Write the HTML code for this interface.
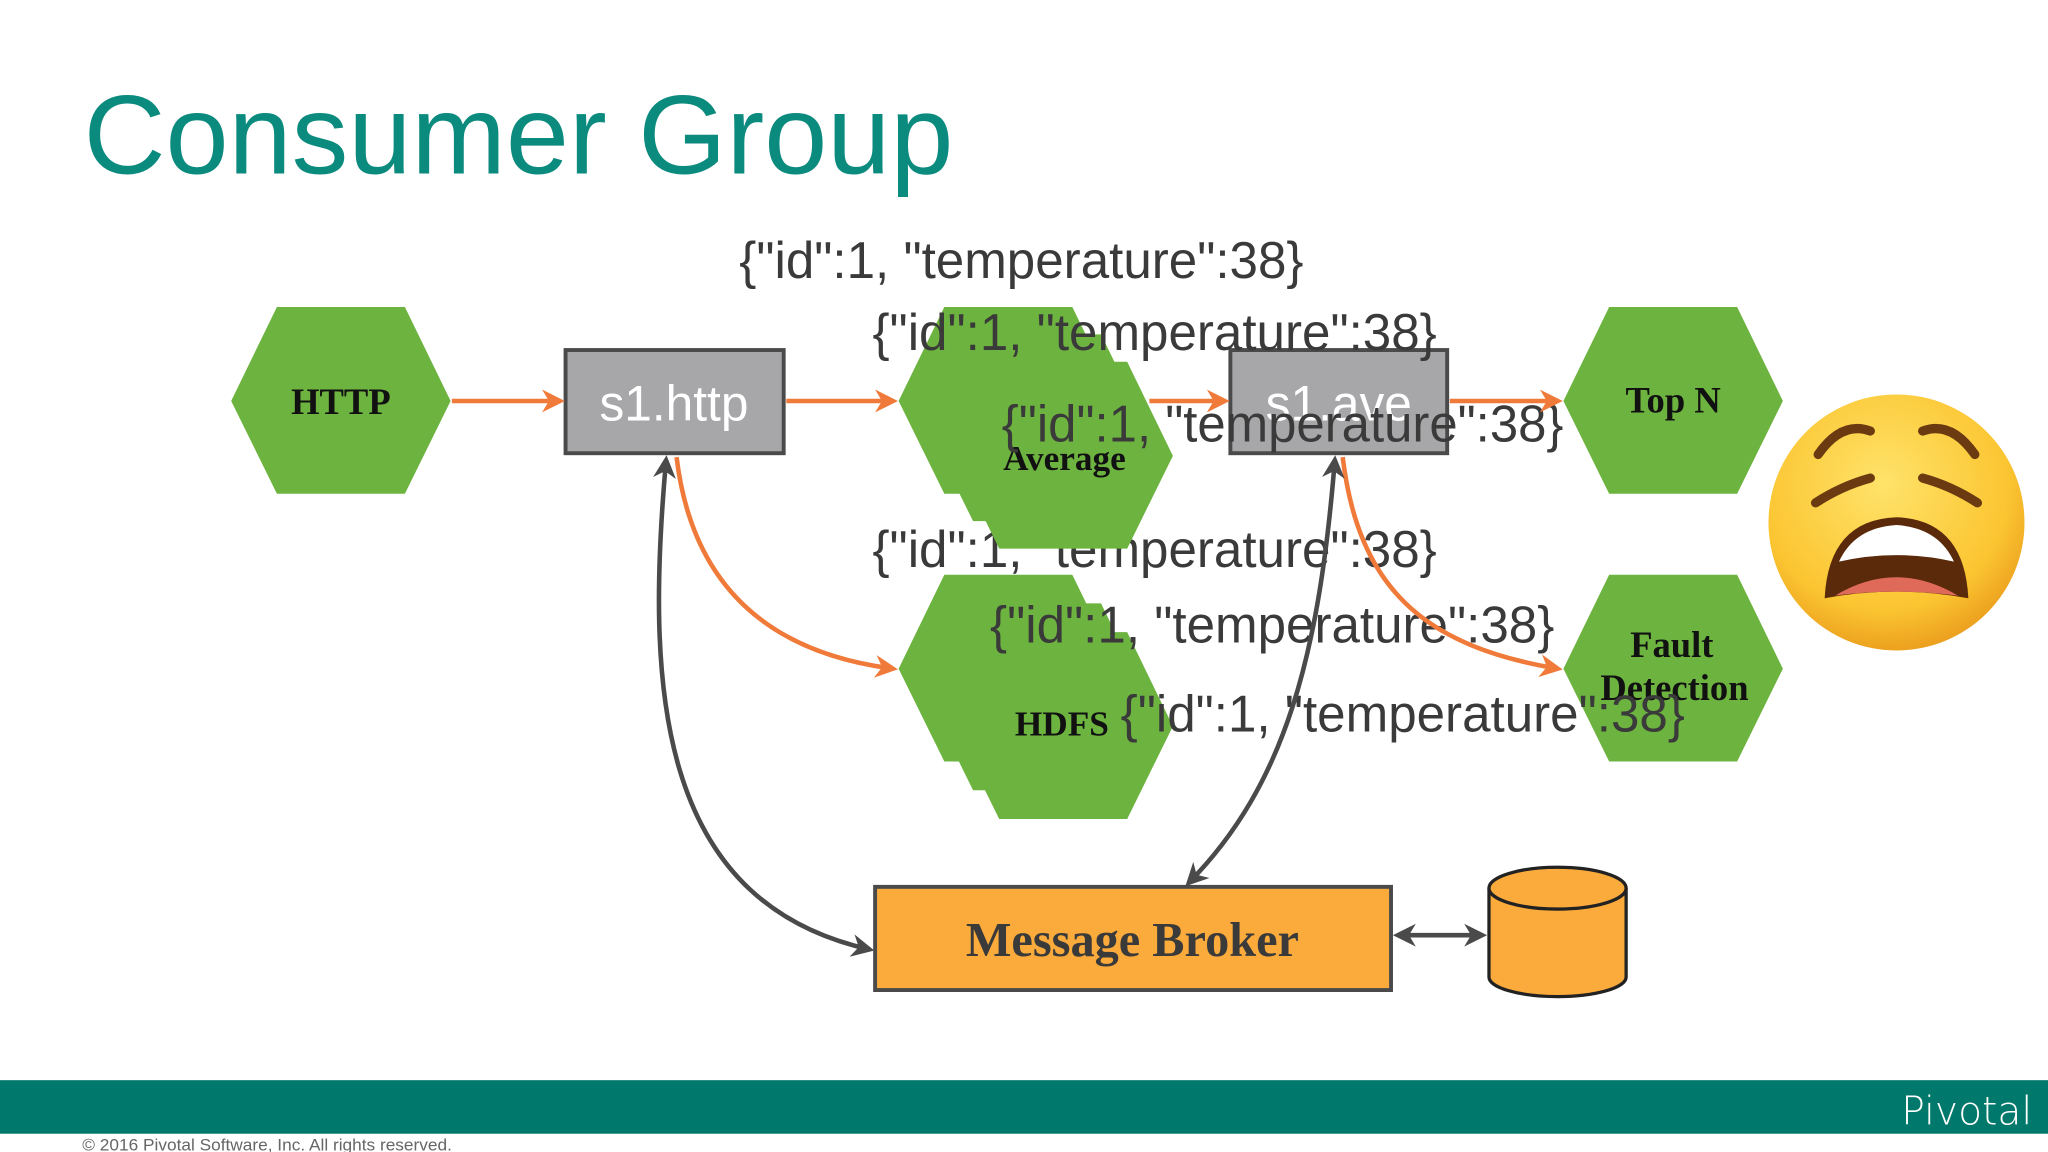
<!DOCTYPE html>
<html><head><meta charset="utf-8"><style>
html,body{margin:0;padding:0;background:#fff;}
svg{display:block;}
</style></head><body>
<svg width="2048" height="1152" viewBox="0 0 1568 882" xmlns="http://www.w3.org/2000/svg">
<defs>
<marker id="ao" viewBox="0 0 10 10" refX="8" refY="5" markerWidth="5" markerHeight="5" orient="auto-start-reverse"><path d="M0,0 L10,5 L0,10 L3,5 z" fill="#f07a3a"/></marker>
<marker id="ag" viewBox="0 0 10 10" refX="8" refY="5" markerWidth="5" markerHeight="5" orient="auto-start-reverse"><path d="M0,0 L10,5 L0,10 L3,5 z" fill="#4a4a4a"/></marker>
<radialGradient id="eg" cx="0.45" cy="0.35" r="0.7"><stop offset="0" stop-color="#ffe36a"/><stop offset="0.7" stop-color="#fbc531"/><stop offset="1" stop-color="#e8961a"/></radialGradient>
<polygon id="hx" points="0,72 35,0 133,0 168,72 133,143 35,143"/>
</defs>
<text x="64" y="133" font-family="Liberation Sans, sans-serif" font-size="86" fill="#0b8a7e" textLength="666" lengthAdjust="spacingAndGlyphs">Consumer Group</text>

<g font-family="Liberation Sans, sans-serif" font-size="40" fill="#3a3a3a">
<text x="566" y="213" textLength="432" lengthAdjust="spacingAndGlyphs">{"id":1, "temperature":38}</text>
<text x="668" y="434" textLength="432" lengthAdjust="spacingAndGlyphs">{"id":1, "temperature":38}</text>
</g>

<g fill="#6db33f">
<use href="#hx" x="177" y="235"/>
<use href="#hx" x="1197" y="235"/>
<use href="#hx" x="1197" y="440"/>
<use href="#hx" x="730" y="277"/><use href="#hx" x="710" y="256"/><use href="#hx" x="688" y="235"/>
<use href="#hx" x="730" y="484"/><use href="#hx" x="710" y="462"/><use href="#hx" x="688" y="440"/>
</g>
<g font-family="Liberation Serif, serif" font-weight="bold" fill="#111" text-anchor="middle">
<text x="261" y="317" font-size="28">HTTP</text>
<text x="1281" y="316" font-size="28">Top N</text>
<text x="1280" y="503" font-size="28">Fault</text>
<text x="1282" y="536" font-size="28">Detection</text>
<text x="815" y="360" font-size="27">Average</text>
<text x="813" y="563" font-size="27">HDFS</text>
</g>

<rect x="433" y="268" width="167" height="79" fill="#a7a6a8" stroke="#4a4a4a" stroke-width="3"/>
<text x="516" y="322" font-family="Liberation Sans, sans-serif" font-size="38" fill="#fff" text-anchor="middle">s1.http</text>
<rect x="942" y="268" width="166" height="79" fill="#a7a6a8" stroke="#4a4a4a" stroke-width="3"/>
<text x="1025" y="322" font-family="Liberation Sans, sans-serif" font-size="38" fill="#fff" text-anchor="middle">s1.ave</text>

<g font-family="Liberation Sans, sans-serif" font-size="40" fill="#3a3a3a">
<text x="668" y="268" textLength="432" lengthAdjust="spacingAndGlyphs">{"id":1, "temperature":38}</text>
<text x="767" y="338" textLength="430" lengthAdjust="spacingAndGlyphs">{"id":1, "temperature":38}</text>
<text x="758" y="492" textLength="432" lengthAdjust="spacingAndGlyphs">{"id":1, "temperature":38}</text>
<text x="858" y="560" textLength="432" lengthAdjust="spacingAndGlyphs">{"id":1, "temperature":38}</text>
</g>

<g stroke="#f07a3a" stroke-width="3.5" fill="none" marker-end="url(#ao)">
<line x1="346" y1="307" x2="429" y2="307"/>
<line x1="602" y1="307" x2="684" y2="307"/>
<line x1="880" y1="307" x2="938" y2="307"/>
<line x1="1110" y1="307" x2="1193" y2="307"/>
<path d="M518,350 C530,450 590,500 684,512"/>
<path d="M1028,350 C1040,450 1090,495 1193,512"/>
</g>
<g stroke="#4a4a4a" stroke-width="3.5" fill="none" marker-start="url(#ag)" marker-end="url(#ag)">
<path d="M510,352 C495,520 500,690 666,727"/>
<path d="M1022,352 C1010,500 985,600 910,676"/>
<line x1="1070" y1="716" x2="1135" y2="716"/>
</g>

<rect x="670" y="679" width="395" height="79" fill="#fbab3c" stroke="#4a4a4a" stroke-width="3"/>
<text x="867" y="732" font-family="Liberation Serif, serif" font-weight="bold" font-size="37" fill="#3a3a3a" text-anchor="middle">Message Broker</text>

<path d="M1140,680 L1140,748 A52.5,15 0 0 0 1245,748 L1245,680" fill="#fbab3c" stroke="#222" stroke-width="2.5"/>
<ellipse cx="1192.5" cy="680" rx="52.5" ry="16" fill="#fbab3c" stroke="#222" stroke-width="2.5"/>

<g>
<circle cx="1452" cy="400" r="98" fill="url(#eg)"/>
<path d="M1392,348 Q1410,322 1432,330" stroke="#6b3a10" stroke-width="7" fill="none" stroke-linecap="round"/>
<path d="M1512,348 Q1494,322 1472,330" stroke="#6b3a10" stroke-width="7" fill="none" stroke-linecap="round"/>
<path d="M1390,385 Q1410,372 1432,366" stroke="#6b3a10" stroke-width="7" fill="none" stroke-linecap="round"/>
<path d="M1514,385 Q1494,372 1472,366" stroke="#6b3a10" stroke-width="7" fill="none" stroke-linecap="round"/>
<path d="M1397,458 Q1400,398 1452,396 Q1504,398 1507,458 Q1452,448 1397,458 z" fill="#5a2a0a"/>
<path d="M1408,430 Q1420,404 1452,402 Q1484,404 1496,430 Q1452,420 1408,430 z" fill="#fff"/>
<path d="M1405,456 Q1452,428 1499,456 Q1452,450 1405,456 z" fill="#e06a5a"/>
</g>

<rect x="0" y="827" width="1568" height="41" fill="#00786b"/>
<text x="1556" y="861" font-family="DejaVu Sans, sans-serif" font-size="30" font-weight="300" fill="#fff" text-anchor="end">Pivotal</text>
<text x="63" y="881" font-family="Liberation Sans, sans-serif" font-size="13" fill="#666" textLength="283" lengthAdjust="spacingAndGlyphs">© 2016 Pivotal Software, Inc.  All rights reserved.</text>
</svg>
</body></html>
